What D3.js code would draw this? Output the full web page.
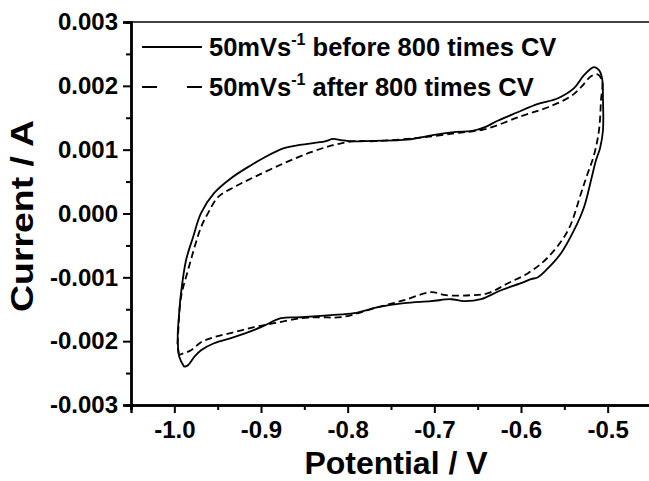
<!DOCTYPE html>
<html>
<head>
<meta charset="utf-8">
<script src="https://cdn.jsdelivr.net/npm/d3@7"></script>
<style>
  html, body { margin: 0; padding: 0; background: #fff; }
  svg { display: block; }
  text { font-family: "Liberation Sans", Arial, sans-serif; font-weight: bold; fill: #000; }
</style>
</head>
<body>
<svg id="chart" width="649" height="481"></svg>
<script>
// ---- data (Potential / V, Current / A) ----
const potentialBefore = [-0.9885,-0.9942,-0.9961,-0.9946,-0.9923,-0.9865,-0.9784,-0.9692,-0.9542,-0.9346,-0.9115,-0.8977,-0.8735,-0.8550,-0.8262,-0.8169,-0.8077,-0.7973,-0.7696,-0.7315,-0.6981,-0.6750,-0.6577,-0.6415,-0.6277,-0.6046,-0.5804,-0.5573,-0.5388,-0.5273,-0.5158,-0.5100,-0.5065,-0.5054,-0.5054,-0.5088,-0.5135,-0.5192,-0.5273,-0.5388,-0.5538,-0.5688,-0.5804,-0.5884,-0.6000,-0.6231,-0.6461,-0.6658,-0.6808,-0.7038,-0.7350,-0.7650,-0.7927,-0.8192,-0.8538,-0.8769,-0.9000,-0.9312,-0.9542,-0.9692,-0.9773,-0.9842,-0.9885];
const currentBefore = [-0.002403,-0.002247,-0.001938,-0.001593,-0.001249,-0.000732,-0.000371,0.000005,0.000318,0.000553,0.000757,0.000866,0.001023,0.001075,0.001130,0.001168,0.001150,0.001132,0.001139,0.001156,0.001236,0.001278,0.001289,0.001352,0.001449,0.001582,0.001716,0.001806,0.001963,0.002167,0.002292,0.002245,0.002120,0.001775,0.001305,0.001023,0.000835,0.000522,0.000099,-0.000262,-0.000622,-0.000857,-0.000998,-0.001029,-0.001092,-0.001202,-0.001343,-0.001374,-0.001343,-0.001374,-0.001405,-0.001468,-0.001562,-0.001593,-0.001625,-0.001640,-0.001781,-0.001938,-0.002032,-0.002142,-0.002252,-0.002377,-0.002403];

const potentialAfter = [-0.9946,-0.9963,-0.9957,-0.9923,-0.9842,-0.9692,-0.9611,-0.9496,-0.9312,-0.9081,-0.8735,-0.8423,-0.8169,-0.7927,-0.7696,-0.7223,-0.6750,-0.6415,-0.6000,-0.5688,-0.5423,-0.5307,-0.5192,-0.5123,-0.5065,-0.5077,-0.5100,-0.5158,-0.5238,-0.5307,-0.5457,-0.5688,-0.5919,-0.6150,-0.6381,-0.6577,-0.6865,-0.7038,-0.7350,-0.7650,-0.8077,-0.8308,-0.8538,-0.8850,-0.9081,-0.9312,-0.9542,-0.9692,-0.9807,-0.9923,-0.9946];
const currentAfter = [-0.002220,-0.002063,-0.001906,-0.001311,-0.000888,-0.000215,0.000005,0.000255,0.000412,0.000569,0.000788,0.000960,0.001070,0.001133,0.001133,0.001180,0.001258,0.001321,0.001524,0.001665,0.001838,0.001979,0.002151,0.002182,0.002088,0.001775,0.001305,0.000913,0.000600,0.000318,-0.000262,-0.000685,-0.000935,-0.001092,-0.001249,-0.001280,-0.001280,-0.001233,-0.001358,-0.001468,-0.001625,-0.001625,-0.001640,-0.001719,-0.001781,-0.001860,-0.001938,-0.002016,-0.002142,-0.002205,-0.002220];

const xTickValues = [-1.0,-0.9,-0.8,-0.7,-0.6,-0.5];
const xTickLabels = ["-1.0","-0.9","-0.8","-0.7","-0.6","-0.5"];
const yTickValues = [-0.003,-0.002,-0.001,0.000,0.001,0.002,0.003];
const yTickLabels = ["-0.003","-0.002","-0.001","0.000","0.001","0.002","0.003"];
const legendLabels = ["before 800 times CV","after 800 times CV"];

// ---- layout ----
const svg = d3.select("#chart");
const mLeft = 131, mRight = 651, mTop = 22, mBottom = 405;

const x = d3.scaleLinear().domain([-1.05, -0.45]).range([mLeft, mRight]);
const y = d3.scaleLinear().domain([-0.003, 0.003]).range([mBottom, mTop]);

// top frame line
svg.append("line")
  .attr("x1", mLeft).attr("x2", mRight).attr("y1", mTop).attr("y2", mTop)
  .attr("stroke", "#444").attr("stroke-width", 2.2);

// minor ticks
const xMinor = d3.range(-1.05, -0.449, 0.1).map(v => +v.toFixed(2));
const yMinor = d3.range(-0.0025, 0.003, 0.001).map(v => +v.toFixed(4));

const xAxis = d3.axisBottom(x).tickValues(xTickValues)
  .tickFormat((d, i) => xTickLabels[i]).tickSizeOuter(0).tickSize(8).tickPadding(8);
const xAxisMinor = d3.axisBottom(x).tickValues(xMinor).tickFormat("").tickSizeOuter(0).tickSize(5);
const yAxis = d3.axisLeft(y).tickValues(yTickValues)
  .tickFormat((d, i) => yTickLabels[i]).tickSizeOuter(0).tickSize(8).tickPadding(5);
const yAxisMinor = d3.axisLeft(y).tickValues(yMinor).tickFormat("").tickSizeOuter(0).tickSize(5);

function styleAxis(g) {
  g.select(".domain").attr("stroke", "#000").attr("stroke-width", 2.4);
  g.selectAll(".tick line").attr("stroke", "#000").attr("stroke-width", 2);
  g.selectAll(".tick text").attr("fill", "#000")
    .style("font-size", "24px").style("font-weight", "bold")
    .style("font-family", '"Liberation Sans", Arial, sans-serif');
}

svg.append("g").attr("transform", `translate(0,${mBottom})`).call(xAxisMinor).call(styleAxis);
svg.append("g").attr("transform", `translate(0,${mBottom})`).call(xAxis).call(styleAxis);
svg.append("g").attr("transform", `translate(${mLeft},0)`).call(yAxisMinor).call(styleAxis);
svg.append("g").attr("transform", `translate(${mLeft},0)`).call(yAxis).call(styleAxis);

// curves
const line = d3.line()
  .x(d => x(d[0])).y(d => y(d[1]))
  .curve(d3.curveCatmullRom.alpha(0.5));

const before = potentialBefore.map((v, i) => [v, currentBefore[i]]);
const after = potentialAfter.map((v, i) => [v, currentAfter[i]]);

svg.append("path").datum(after).attr("d", line)
  .attr("fill", "none").attr("stroke", "#000").attr("stroke-width", 1.8)
  .attr("stroke-dasharray", "7,4");
svg.append("path").datum(before).attr("d", line)
  .attr("fill", "none").attr("stroke", "#000").attr("stroke-width", 1.8);

// legend
const leg = svg.append("g");
const rows = [{y: 47, dash: null}, {y: 87, dash: "15,30"}];
rows.forEach((r, i) => {
  leg.append("line")
    .attr("x1", 142).attr("x2", 202).attr("y1", r.y).attr("y2", r.y)
    .attr("stroke", "#000").attr("stroke-width", 1.8)
    .attr("stroke-dasharray", r.dash);
  const t = leg.append("text")
    .attr("x", 209).attr("y", r.y + 8.5)
    .style("font-size", "25.5px");
  t.append("tspan").text("50mVs");
  t.append("tspan").attr("dy", -11).style("font-size", "16px").text("-1");
  t.append("tspan").attr("dy", 11).text(" " + legendLabels[i]);
});

// axis titles
svg.append("text")
  .attr("x", 396).attr("y", 474)
  .attr("text-anchor", "middle")
  .style("font-size", "32px")
  .text("Potential / V");

svg.append("text")
  .attr("transform", `translate(33,216) rotate(-90)`)
  .attr("text-anchor", "middle")
  .attr("textLength", 192).attr("lengthAdjust", "spacingAndGlyphs")
  .style("font-size", "32px")
  .text("Current / A");
</script>
</body>
</html>
